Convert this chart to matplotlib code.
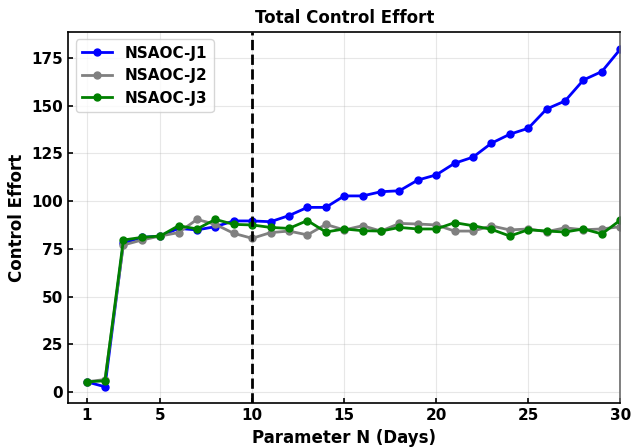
import matplotlib
matplotlib.use('Agg')
import matplotlib.pyplot as plt
import numpy as np

days = np.arange(1, 31)

# Total control effort per policy
j1 = [5.4, 2.8, 78.0, 81.0, 81.7, 85.7, 84.9, 86.6, 89.6, 89.6,
      89.2, 92.4, 96.7, 96.7, 102.7, 102.7, 104.9, 105.4, 111.0, 113.7,
      119.8, 123.0, 130.3, 135.0, 138.1, 148.2, 152.4, 163.4, 167.8, 179.5]
j2 = [5.4, 6.6, 77.0, 79.6, 81.7, 83.5, 90.4, 87.8, 83.1, 80.5,
      83.5, 84.3, 82.3, 87.8, 84.9, 87.1, 84.3, 88.3, 88.0, 87.5,
      84.3, 84.3, 87.0, 84.9, 85.4, 84.0, 86.0, 85.0, 85.4, 86.6]
j3 = [5.4, 5.9, 79.6, 81.0, 81.7, 87.1, 85.4, 90.4, 87.8, 87.5,
      86.2, 85.7, 89.8, 83.8, 85.4, 84.5, 84.3, 86.2, 85.4, 85.4,
      88.7, 87.1, 85.2, 81.7, 85.0, 84.3, 83.8, 85.4, 82.8, 90.0]

series = [('NSAOC-J1', j1, 'blue'), ('NSAOC-J2', j2, 'gray'), ('NSAOC-J3', j3, 'green')]
xticks = [1, 5, 10, 15, 20, 25, 30]

fig = plt.figure(figsize=(6.31, 4.48), dpi=100)
ax = fig.add_axes([0.108, 0.100, 0.875, 0.829])

for name, vals, col in series:
    ax.plot(days, vals, '-o', color=col, label=name, linewidth=2, markersize=5)

ax.axvline(10, color='black', linestyle='--', linewidth=2)

ax.set_xlim(0, 30)
ax.set_ylim(-5.8, 188.6)
ax.set_xticks(xticks)
ax.set_yticks([0, 25, 50, 75, 100, 125, 150, 175])
ax.grid(True, alpha=0.3)
ax.tick_params(direction='in', labelsize=11, width=1.2)
for lbl in ax.get_xticklabels() + ax.get_yticklabels():
    lbl.set_fontweight('bold')
for sp in ax.spines.values():
    sp.set_linewidth(1.2)
ax.spines['right'].set_color('dimgray')

ax.set_title('Total Control Effort', fontsize=12, fontweight='bold')
ax.set_xlabel('Parameter N (Days)', fontsize=12, fontweight='bold')
ax.set_ylabel('Control Effort', fontsize=12, fontweight='bold')
ax.legend(loc='upper left', prop={'weight': 'bold', 'size': 11})

fig.savefig('out.png', dpi=100)
